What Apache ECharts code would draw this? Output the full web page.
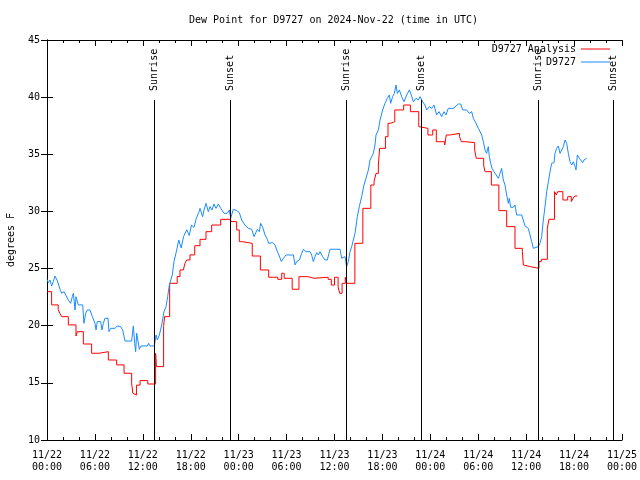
<!DOCTYPE html>
<html>
<head>
<meta charset="utf-8">
<script src="https://cdn.jsdelivr.net/npm/echarts@6/dist/echarts.min.js"></script>
<style>html,body{margin:0;padding:0;background:#fff}#c{width:640px;height:480px}</style>
</head>
<body>
<div id="c"></div>
<script>
// hours since 2024-11-22 00:00 UTC
var xTickLabels = ['11/22\n00:00','11/22\n06:00','11/22\n12:00','11/22\n18:00','11/23\n00:00','11/23\n06:00','11/23\n12:00','11/23\n18:00','11/24\n00:00','11/24\n06:00','11/24\n12:00','11/24\n18:00','11/25\n00:00'];
var eventHours = [13.44, 22.92, 37.52, 46.83, 61.52, 70.91];
var eventNames = ['Sunrise','Sunset','Sunrise','Sunset','Sunrise','Sunset'];

var blueHours = [0.0,0.17,0.38,0.58,0.79,1.0,1.29,1.63,1.84,2.13,2.38,2.67,2.96,3.17,3.30,3.51,3.63,3.92,4.47,4.63,4.84,5.05,5.38,5.68,5.89,6.01,6.14,6.30,6.72,6.89,7.05,7.26,7.64,7.76,7.97,8.22,8.52,8.81,9.22,9.47,9.77,10.6,10.81,10.98,11.1,11.23,11.4,11.56,11.77,12.56,12.73,12.9,13.44,13.65,13.82,14.07,14.36,14.65,14.9,15.11,15.32,15.53,15.69,15.9,16.2,16.5,16.8,17.1,17.5,17.8,18.1,18.4,18.7,19.0,19.16,19.49,19.66,19.91,20.2,20.41,20.66,20.91,21.16,21.46,21.75,22.16,22.58,22.83,23.0,23.33,23.75,24.08,24.38,24.79,25.21,25.63,25.92,26.17,26.34,26.59,26.76,27.01,27.3,27.59,27.76,28.01,28.26,28.55,28.76,29.09,29.34,29.6,29.93,30.85,31.06,31.26,31.6,31.89,32.1,32.43,32.93,33.14,33.35,33.56,33.77,33.98,34.19,34.52,34.81,35.1,35.44,36.69,36.9,37.11,37.32,37.52,37.73,37.94,38.15,38.57,38.86,39.11,39.4,39.69,39.94,40.24,40.45,40.65,40.86,41.07,41.2,41.49,41.7,42.03,42.32,42.62,42.87,43.03,43.28,43.49,43.7,43.87,44.12,44.41,44.7,45.04,45.37,45.62,45.87,46.21,46.5,46.71,47.04,47.33,47.54,47.88,48.17,48.46,48.79,49.09,49.42,49.71,49.96,50.25,50.88,51.51,51.8,52.05,52.55,52.88,53.18,53.38,53.72,54.01,54.43,54.64,54.85,55.05,55.26,55.39,55.56,55.72,55.97,56.22,56.52,56.72,56.93,57.14,57.35,57.56,57.77,57.89,58.06,58.39,58.6,58.81,59.44,59.65,59.86,60.06,60.27,60.48,60.69,60.9,61.11,61.52,61.73,61.94,62.15,62.36,62.57,62.78,62.99,63.19,63.49,63.61,63.82,64.03,64.24,64.45,64.66,64.86,65.07,65.28,65.49,65.7,65.91,66.12,66.24,66.41,66.66,66.87,67.08,67.24,67.49,67.58];
var blueValues = [24.06,23.77,24.0,23.48,23.86,24.35,23.94,23.19,22.84,22.98,22.84,22.25,21.96,22.54,22.84,21.38,22.54,21.82,21.82,20.21,21.09,21.38,21.38,20.79,20.65,20.21,19.63,20.36,20.36,19.63,20.21,20.65,20.65,19.48,19.77,19.92,19.77,19.98,19.92,19.63,18.66,18.66,19.98,18.46,17.73,19.34,19.39,17.94,18.23,18.23,18.46,18.23,18.23,19.19,18.75,19.19,20.07,21.23,21.67,22.54,23.56,23.71,24.44,25.6,26.5,27.5,26.8,27.8,28.4,27.9,28.8,28.6,29.4,29.9,30.27,29.54,30.13,30.71,29.98,30.42,30.13,30.65,30.27,30.65,30.27,29.84,29.84,30.13,29.4,30.19,30.07,29.9,29.25,28.81,28.52,28.44,27.79,27.65,28.44,28.23,28.96,28.61,27.94,27.56,27.21,27.07,27.27,27.07,26.63,26.1,25.61,25.9,26.19,26.19,25.32,25.61,25.75,26.34,26.69,26.48,26.48,26.19,25.61,26.04,26.39,26.19,26.48,26.04,25.75,25.75,26.69,26.69,25.9,25.75,26.04,25.17,25.61,26.48,26.92,28.08,29.54,30.42,31.29,32.31,32.9,33.63,34.5,34.65,35.08,35.81,36.69,37.13,38.0,38.88,39.46,39.9,40.19,39.46,40.04,40.33,41.06,40.33,40.63,40.04,39.6,40.19,40.63,40.19,39.6,39.9,39.75,40.04,39.6,39.31,38.88,39.17,39.02,39.31,38.44,38.73,38.29,38.73,38.44,39.02,39.02,39.4,39.4,38.88,38.88,38.58,38.73,38.15,37.71,37.27,36.69,36.1,35.38,35.08,35.67,34.79,34.21,33.77,33.48,33.33,32.9,33.04,33.77,32.75,32.31,31.44,30.71,31.15,30.36,30.36,30.56,29.69,29.69,29.83,28.73,28.9,28.52,27.94,27.36,26.77,26.92,26.92,27.21,27.79,29.25,30.42,31.73,32.6,33.48,34.21,34.27,35.08,35.52,35.73,35.08,35.08,35.67,36.25,35.96,35.08,34.35,34.06,34.35,33.92,33.63,34.94,34.65,34.5,34.27,34.5,34.65,34.65];

var redHours = [0.0,0.58,1.4,1.6,1.84,2.67,3.63,3.8,4.55,5.59,6.55,7.68,8.72,9.65,10.6,10.75,11.0,11.2,11.65,12.62,13.6,13.7,14.6,14.72,15.36,16.3,16.65,17.07,17.28,17.49,17.9,18.5,19.16,19.91,20.62,21.75,23.0,23.75,24.08,24.38,25.7,26.72,27.76,28.9,29.39,29.7,30.7,31.55,32.7,33.4,35.2,35.6,36.0,36.45,36.65,36.95,37.35,37.55,38.55,39.55,40.55,40.95,41.2,41.49,41.65,42.38,42.7,43.0,43.55,44.66,45.5,46.55,46.75,47.7,48.3,48.75,49.8,50.0,50.5,51.65,51.9,52.45,53.55,53.75,54.68,54.85,55.64,56.58,57.56,58.6,59.52,59.65,59.86,60.52,61.6,61.9,62.65,62.85,63.55,63.78,63.95,64.6,65.2,65.65,65.88,66.1,66.41];
var redValues = [22.98,21.82,21.4,21.1,20.79,20.07,19.1,19.48,18.4,17.59,17.73,17.0,16.57,15.84,14.96,14.09,13.94,14.8,15.2,14.9,17.59,16.42,19.92,20.79,23.71,24.3,24.88,25.02,25.46,25.75,26.2,27.0,27.56,28.23,28.81,29.31,29.11,28.38,27.36,27.21,26.1,24.88,24.24,24.06,24.59,24.15,23.19,24.29,24.15,24.24,24.06,23.56,24.24,23.42,22.84,23.71,24.24,23.71,27.21,30.27,32.31,32.6,33.33,34.06,35.52,36.54,37.71,37.85,38.88,39.31,38.73,37.42,37.27,36.69,37.13,36.1,35.81,36.69,36.83,36.54,36.1,36.02,35.38,34.65,34.0,33.48,32.31,30.07,28.67,26.77,26.48,25.31,25.17,25.02,25.61,25.81,28.52,29.31,31.73,31.44,31.73,31.0,31.29,30.86,31.15,31.35,31.35];

function pairs(xs, ys) { return xs.map(function (x, i) { return [x, ys[i]]; }); }

var FONT = 'DejaVu Sans Mono';
var txt = { fontFamily: FONT, fontSize: 10, color: '#000' };

var markData = [];
eventHours.forEach(function (h, i) {
  markData.push([{ coord: [h, 10] }, { coord: [h, 39.75] }]);
  markData.push([
    { coord: [h, 40.54], lineStyle: { color: 'rgba(0,0,0,0)', width: 0, opacity: 1 },
      label: { show: true, formatter: eventNames[i], position: 'insideStart', distance: 0, opacity: 1,
               fontFamily: FONT, fontSize: 10, color: '#000' } },
    { coord: [h, 44.9] }
  ]);
});

var axisCommon = {
  type: 'value', min: 0, max: 72, interval: 6,
  axisLine: { show: true, lineStyle: { color: '#000', width: 1 } },
  axisTick: { show: true, inside: true, length: 6, lineStyle: { color: '#000' } },
  minorTick: { show: true, splitNumber: 3, length: 3, lineStyle: { color: '#000' } },
  splitLine: { show: false }, minorSplitLine: { show: false }
};
var yCommon = {
  type: 'value', min: 10, max: 45, interval: 5,
  axisLine: { show: true, lineStyle: { color: '#000', width: 1 } },
  axisTick: { show: true, inside: true, length: 6, lineStyle: { color: '#000' } },
  splitLine: { show: false }
};

var chart = echarts.init(document.getElementById('c'), null, { renderer: 'canvas' });
chart.setOption({
  animation: false,
  backgroundColor: '#fff',
  title: { text: 'Dew Point for D9727 on 2024-Nov-22 (time in UTC)', left: 189, top: 15, padding: 0,
           textStyle: { fontFamily: FONT, fontSize: 10, fontWeight: 'normal', color: '#000' } },
  legend: [
    { data: ['D9727 Analysis'], right: 30, top: 44, padding: 0, align: 'right', icon: 'rect',
      itemWidth: 29, itemHeight: 1, textStyle: txt, selectedMode: false },
    { data: ['D9727'], right: 30, top: 57, padding: 0, align: 'right', icon: 'rect',
      itemWidth: 29, itemHeight: 1, textStyle: txt, selectedMode: false }
  ],
  grid: { left: 47, right: 18, top: 40, bottom: 40, containLabel: false, outerBoundsMode: 'none' },
  xAxis: [
    Object.assign({}, axisCommon, { position: 'bottom',
      axisLabel: { show: true, margin: 9, lineHeight: 12, fontFamily: FONT, fontSize: 10, color: '#000',
        formatter: function (v) { return xTickLabels[Math.round(v / 6)]; } } }),
    Object.assign({}, axisCommon, { position: 'top', axisLabel: { show: false } })
  ],
  yAxis: [
    Object.assign({}, yCommon, { position: 'left', name: 'degrees F', nameLocation: 'middle', nameGap: 31, nameRotate: 90,
      nameTextStyle: txt,
      axisLabel: { show: true, margin: 7, fontFamily: FONT, fontSize: 10, color: '#000' } }),
    Object.assign({}, yCommon, { position: 'right', axisLabel: { show: false } })
  ],
  series: [
    { name: 'D9727 Analysis', type: 'line', data: pairs(redHours, redValues), step: 'end',
      showSymbol: false, symbol: 'none', color: '#ff0000', lineStyle: { width: 1, color: '#ff0000' },
      markLine: { silent: true, symbol: ['none', 'none'], animation: false,
        lineStyle: { color: '#000', width: 1, type: 'solid' }, label: { show: false }, data: markData } },
    { name: 'D9727', type: 'line', data: pairs(blueHours, blueValues),
      showSymbol: false, symbol: 'none', color: '#1a8cff', lineStyle: { width: 1, color: '#1a8cff' } }
  ]
});
</script>
</body>
</html>
